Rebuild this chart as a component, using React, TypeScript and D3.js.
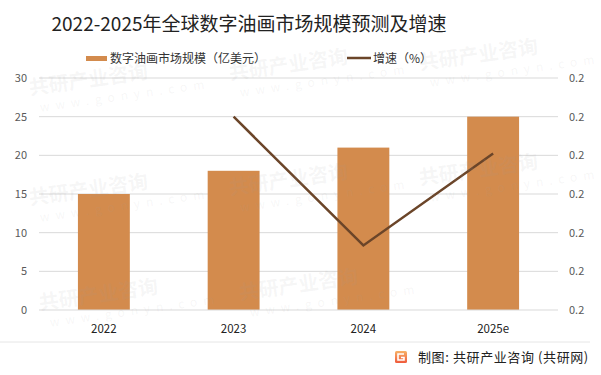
import React, { useEffect, useRef } from 'react';
import * as d3 from 'd3';

const years = ['2022', '2023', '2024', '2025e'];
const marketSize = [15, 18, 21, 25];
const growthYears = ['2023', '2024', '2025e'];
const growthRate = [0.2, 0.1667, 0.1905];
const leftTicks = [0, 5, 10, 15, 20, 25, 30];
const rightTicks = [0.15, 0.16, 0.17, 0.18, 0.19, 0.2, 0.21];

const title = '2022-2025年全球数字油画市场规模预测及增速';
const barLabel = '数字油画市场规模（亿美元）';
const lineLabel = '增速（%）';
const source = '制图: 共研产业咨询 (共研网)';

const W = 601;
const H = 375;
const FONT = '"Noto Sans CJK SC", "Noto Sans", sans-serif';

const App = () => {
  const chart = useRef<SVGSVGElement>(null);

  useEffect(() => {
    const svg = d3.select(chart.current);
    svg.selectAll('*').remove();

    const margin = { top: 78, right: 43, bottom: 65, left: 39 };
    const plotW = W - margin.left - margin.right;
    const plotH = H - margin.top - margin.bottom;

    const x = d3.scaleBand().domain(years).range([margin.left, margin.left + plotW]).paddingInner(0.6).paddingOuter(0.3);
    const y = d3.scaleLinear().domain([0, 30]).range([margin.top + plotH, margin.top]);
    const y2 = d3.scaleLinear().domain([0.15, 0.21]).range([margin.top + plotH, margin.top]);

    // gridlines
    svg.append('g').selectAll('line').data(leftTicks.slice(1)).join('line')
      .attr('x1', margin.left).attr('x2', margin.left + plotW)
      .attr('y1', (d) => y(d)).attr('y2', (d) => y(d))
      .attr('stroke', '#d9d9d9').attr('stroke-width', 1);

    // bars
    svg.append('g').selectAll('rect').data(marketSize).join('rect')
      .attr('x', (d, i) => x(years[i])!)
      .attr('y', (d) => y(d))
      .attr('width', x.bandwidth())
      .attr('height', (d) => y(0) - y(d))
      .attr('fill', '#d38b4d');

    // x axis line
    svg.append('line')
      .attr('x1', margin.left).attr('x2', margin.left + plotW)
      .attr('y1', y(0)).attr('y2', y(0))
      .attr('stroke', '#d9d9d9');

    // growth line
    const line = d3.line<number>()
      .x((d, i) => x(growthYears[i])! + x.bandwidth() / 2)
      .y((d) => y2(d));
    svg.append('path')
      .attr('d', line(growthRate))
      .attr('fill', 'none')
      .attr('stroke', '#6b4529')
      .attr('stroke-width', 2.5);

    // left axis
    const yAxis = d3.axisLeft(y).tickValues(leftTicks).tickSize(0).tickPadding(0);
    const gl = svg.append('g').attr('transform', `translate(${margin.left - 12},0)`).call(yAxis);
    gl.select('.domain').remove();
    gl.selectAll('text').attr('font-family', FONT).attr('font-size', 11).attr('fill', '#595959');

    // right axis
    const y2Axis = d3.axisRight(y2).tickValues(rightTicks).tickSize(0).tickPadding(0)
      .tickFormat((d) => (Math.round((d as number) * 10) / 10).toFixed(1));
    const gr = svg.append('g').attr('transform', `translate(${margin.left + plotW + 11},0)`).call(y2Axis);
    gr.select('.domain').remove();
    gr.selectAll('text').attr('font-family', FONT).attr('font-size', 11).attr('fill', '#595959');

    // x axis labels
    svg.append('g').selectAll('text').data(years).join('text')
      .attr('x', (d) => x(d)! + x.bandwidth() / 2)
      .attr('y', y(0) + 23)
      .attr('text-anchor', 'middle')
      .attr('font-family', FONT).attr('font-size', 11.5).attr('fill', '#222')
      .text((d) => d);

    // title
    svg.append('text')
      .attr('x', 249).attr('y', 31)
      .attr('text-anchor', 'middle')
      .attr('font-family', FONT).attr('font-size', 19).attr('fill', '#222')
      .text(title);

    // legend
    const lg = svg.append('g').attr('font-family', FONT).attr('font-size', 12).attr('fill', '#333');
    lg.append('rect').attr('x', 86).attr('y', 56).attr('width', 21).attr('height', 5).attr('fill', '#d38b4d');
    lg.append('text').attr('x', 110).attr('y', 63).text(barLabel);
    lg.append('line').attr('x1', 347).attr('x2', 371).attr('y1', 58).attr('y2', 58)
      .attr('stroke', '#6b4529').attr('stroke-width', 2.5);
    lg.append('text').attr('x', 373).attr('y', 63).text(lineLabel);

    // footer
    svg.append('line').attr('x1', 0).attr('x2', 590).attr('y1', 342).attr('y2', 342)
      .attr('stroke', '#e6e6e6');
    const grad = svg.append('defs').append('linearGradient').attr('id', 'logo').attr('x1', 0).attr('y1', 0).attr('x2', 0).attr('y2', 1);
    grad.append('stop').attr('offset', 0).attr('stop-color', '#f7b267');
    grad.append('stop').attr('offset', 1).attr('stop-color', '#ef5a3c');
    svg.append('rect').attr('x', 395).attr('y', 351).attr('width', 12).attr('height', 12).attr('rx', 1.5).attr('fill', 'url(#logo)');
    svg.append('path').attr('d', 'M404,354 H398 V360 H404 V357.5 H401')
      .attr('fill', 'none').attr('stroke', '#fff').attr('stroke-width', 1.6);
    svg.append('text')
      .attr('x', 418).attr('y', 362)
      .attr('font-family', FONT).attr('font-size', 13).attr('letter-spacing', 0.6).attr('fill', '#222')
      .text(source);

    // watermarks, faint overlay on top of everything
    const wm = svg.append('g').attr('fill', '#a0a0a0').attr('fill-opacity', 0.1)
      .attr('font-family', FONT).style('pointer-events', 'none');
    const spots = [
      [30, 95], [230, 80], [420, 70],
      [30, 205], [230, 195], [420, 185],
      [40, 310], [240, 300],
    ];
    spots.forEach(([px, py]) => {
      const g = wm.append('g').attr('transform', `translate(${px},${py}) rotate(-8)`);
      g.append('text').attr('x', 0).attr('y', 0).attr('font-size', 20).attr('font-weight', 700).text('共研产业咨询');
      g.append('text').attr('x', 8).attr('y', 18).attr('font-size', 12).attr('letter-spacing', 6).text('www.gonyn.com');
    });
  }, []);

  return (
    <svg ref={chart} width={W} height={H} style={{ display: 'block', position: 'absolute', left: 0, top: 0, background: '#fff' }} />
  );
};

export default App;
